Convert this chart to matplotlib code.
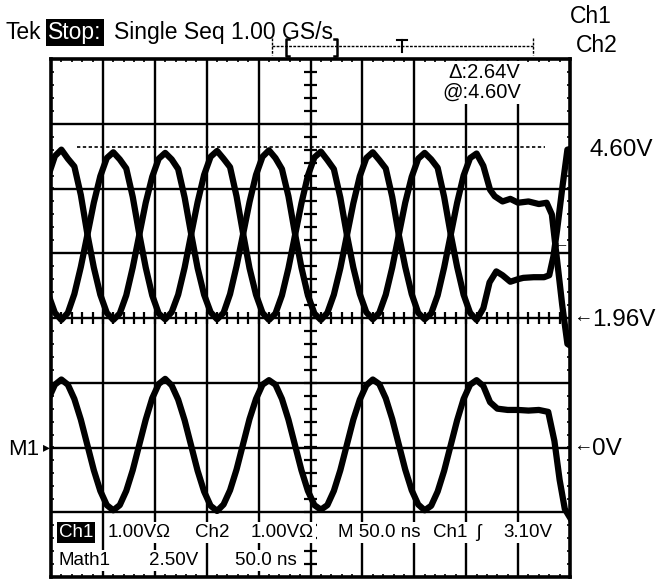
import matplotlib.pyplot as plt
import numpy as np

W, H = 660, 579
plt.rcParams['font.family'] = ['Liberation Sans Narrow', 'Liberation Sans', 'DejaVu Sans']

# sample times in divisions (50 ns/div), one reading every 1/8 div
t_main = np.arange(67) * 0.125 - 0.05

# Ch1, Ch2 in divisions above centre (1.00 V/div, centre = 1.96 V)
ch1_main = [2.20, 2.50, 2.60, 2.46, 2.34, 1.90, 1.30, 0.78, 0.36, 0.08, -0.03, 0.07, 0.35, 0.78, 1.28, 1.78,
            2.18, 2.46, 2.55, 2.45, 2.30, 1.86, 1.30, 0.77, 0.36, 0.09, -0.02, 0.08, 0.37, 0.80, 1.29, 1.79,
            2.21, 2.49, 2.59, 2.47, 2.30, 1.88, 1.31, 0.78, 0.35, 0.07, -0.03, 0.08, 0.36, 0.77, 1.27, 1.77,
            2.19, 2.47, 2.56, 2.44, 2.31, 1.87, 1.29, 0.79, 0.37, 0.08, -0.02, 0.07, 0.35, 0.78, 1.28, 1.78,
            2.20, 2.47, 2.54]
ch2_main = [0.36, 0.08, -0.03, 0.08, 0.37, 0.79, 1.28, 1.78, 2.19, 2.47, 2.56, 2.45, 2.31, 1.87, 1.30, 0.78,
            0.35, 0.07, -0.02, 0.09, 0.36, 0.78, 1.29, 1.79, 2.21, 2.49, 2.58, 2.46, 2.33, 1.88, 1.31, 0.77,
            0.36, 0.08, -0.03, 0.07, 0.35, 0.77, 1.27, 1.77, 2.20, 2.48, 2.57, 2.44, 2.30, 1.86, 1.29, 0.78,
            0.37, 0.09, -0.02, 0.08, 0.36, 0.78, 1.28, 1.78, 2.18, 2.46, 2.55, 2.45, 2.32, 1.87, 1.30, 0.79,
            0.36, 0.08, -0.03]
# Math1 in divisions (2.50 V/div), its zero sits 2 div below centre
math_main = [-1.25, -1.03, -0.95, -1.03, -1.25, -1.57, -1.96, -2.35, -2.67, -2.89, -2.97, -2.89, -2.67, -2.35, -1.96, -1.57,
             -1.24, -1.02, -0.94, -1.04, -1.26, -1.58, -1.97, -2.36, -2.68, -2.90, -2.98, -2.88, -2.66, -2.34, -1.95, -1.56,
             -1.25, -1.03, -0.96, -1.03, -1.25, -1.57, -1.96, -2.35, -2.67, -2.89, -2.96, -2.89, -2.67, -2.35, -1.96, -1.57,
             -1.26, -1.04, -0.95, -1.02, -1.24, -1.56, -1.95, -2.34, -2.66, -2.88, -2.97, -2.90, -2.68, -2.36, -1.97, -1.58,
             -1.25, -1.03, -0.96]

# end of the record
ch1_tail_t = [8.33, 8.46, 8.55, 8.70, 8.85, 9.00, 9.20, 9.40, 9.55, 9.65, 9.75, 9.85, 9.95, 10.05]
ch1_tail = [2.35, 1.98, 1.88, 1.80, 1.84, 1.78, 1.80, 1.76, 1.78, 1.60, 0.90, 0.20, -0.40, -0.45]
ch2_tail_t = [8.33, 8.45, 8.58, 8.70, 8.85, 9.00, 9.10, 9.30, 9.50, 9.60, 9.68, 9.75, 9.85, 9.95, 10.05]
ch2_tail = [0.15, 0.55, 0.72, 0.66, 0.56, 0.60, 0.62, 0.63, 0.63, 0.66, 0.95, 1.35, 2.00, 2.60, 2.62]
math_tail_t = [8.33, 8.46, 8.60, 8.80, 9.00, 9.20, 9.40, 9.58, 9.70, 9.80, 9.90, 10.05]
math_tail = [-1.05, -1.30, -1.40, -1.42, -1.42, -1.43, -1.42, -1.45, -1.90, -2.50, -2.95, -3.15]

cursor_level = 2.64      # 4.60 V cursor, 2.64 div above 1.96 V
trigger_level = 1.14     # 3.10 V


def fx(px):
    return px / W


def fy(py):
    return 1 - py / H


fig = plt.figure(figsize=(W / 100, H / 100), dpi=100)
ax = fig.add_axes([51 / W, 2 / H, 519 / W, 518 / H])
ax.set_xlim(0, 10)
ax.set_ylim(-4, 4)
ax.set_xticks([])
ax.set_yticks([])
for s in ax.spines.values():
    s.set_linewidth(2.6)

# graticule
for i in range(1, 10):
    ax.axvline(i, color='black', lw=1.7, zorder=1)
for j in range(-3, 4):
    ax.axhline(j, color='black', lw=1.7, zorder=1)
minor_x = np.arange(0.2, 10, 0.2)
minor_y = np.arange(-3.8, 4, 0.2)
ax.vlines(minor_x, -0.1, 0.1, color='black', lw=1.6, zorder=1)
ax.hlines(minor_y, 5 - 0.13, 5 + 0.13, color='black', lw=1.6, zorder=1)
ax.vlines(minor_x, -4, -3.95, color='black', lw=1.2)
ax.vlines(minor_x, 3.95, 4, color='black', lw=1.2)
ax.hlines(minor_y, 0, 0.06, color='black', lw=1.2)
ax.hlines(minor_y, 9.94, 10, color='black', lw=1.2)

# cursor
ax.hlines(cursor_level, 0.5, 9.52, color='black', lw=1.2, linestyles=(0, (2, 1.5)), zorder=1)

# traces
kw = dict(color='black', lw=4.5, solid_joinstyle='round', solid_capstyle='round', zorder=3)
ax.plot(np.concatenate([t_main, ch1_tail_t]), np.concatenate([ch1_main, ch1_tail]), **kw)
ax.plot(np.concatenate([t_main, ch2_tail_t]), np.concatenate([ch2_main, ch2_tail]), **kw)
ax.plot(np.concatenate([t_main, math_tail_t]), np.concatenate([math_main, math_tail]), **kw)

# trigger level arrow at right edge
ax.text(9.98, trigger_level, '\u2190', ha='right', va='center', fontsize=12, zorder=4)

white = dict(facecolor='white', edgecolor='none', pad=1.5)
black = dict(facecolor='black', edgecolor='none', pad=1.5)

# readouts inside the screen
ax.text((448 - 51) / 51.9, (318 - 78) / 64.75, '\u0394:2.64V', fontsize=14.5, va='baseline', bbox=white, zorder=5)
ax.text((442 - 51) / 51.9, (318 - 98) / 64.75, '@:4.60V', fontsize=14.5, va='baseline', bbox=white, zorder=5)

row1 = [(59, 'Ch1', True), (108, '1.00V\u03a9', False), (195, 'Ch2', False), (251, '1.00V\u03a9', False),
        (338, 'M 50.0 ns', False), (433, 'Ch1', False), (476, '\u0283', False), (503, '3.10V', False)]
for px, s, inv in row1:
    ax.text((px - 51) / 51.9, (318 - 537) / 64.75, s, fontsize=13.5, va='baseline',
            color='white' if inv else 'black', bbox=black if inv else white, zorder=5)
row2 = [(59, 'Math1'), (149, '2.50V'), (235, '50.0 ns')]
for px, s in row2:
    ax.text((px - 51) / 51.9, (318 - 565) / 64.75, s, fontsize=13.5, va='baseline', bbox=white, zorder=5)

# header
fig.text(fx(5), fy(39), 'Tek', fontsize=16.5, va='baseline')
fig.text(fx(48), fy(39), 'Stop:', fontsize=16.5, va='baseline', color='white', bbox=black)
fig.text(fx(114), fy(39), 'Single Seq 1.00 GS/s', fontsize=16.5, va='baseline')
fig.text(fx(570), fy(23), 'Ch1', fontsize=16.5, va='baseline')
fig.text(fx(576), fy(52), 'Ch2', fontsize=16.5, va='baseline')

# record bar
fig.add_artist(plt.Line2D([fx(272), fx(533)], [fy(46), fy(46)], color='black', lw=1, ls=(0, (2, 1))))
for px in (272, 533):
    fig.add_artist(plt.Line2D([fx(px), fx(px)], [fy(38), fy(55)], color='black', lw=1, ls=(0, (2, 1))))
for px, d in ((286, 1), (337, -1)):
    fig.add_artist(plt.Line2D([fx(px + 3 * d), fx(px), fx(px), fx(px + 3 * d)],
                              [fy(39), fy(39), fy(56), fy(56)], color='black', lw=1.8))
fig.add_artist(plt.Line2D([fx(397), fx(407)], [fy(40), fy(40)], color='black', lw=1.5))
fig.add_artist(plt.Line2D([fx(402), fx(402)], [fy(40), fy(52)], color='black', lw=1.5))

# right side labels
fig.text(fx(590), fy(156), '4.60V', fontsize=17.5, va='baseline')
fig.text(fx(573), fy(318), '\u2190', fontsize=14, va='center')
fig.text(fx(592), fy(326), '1.96V', fontsize=17.5, va='baseline')
fig.text(fx(573), fy(447), '\u2190', fontsize=14, va='center')
fig.text(fx(592), fy(455), '0V', fontsize=17.5, va='baseline')
fig.text(fx(8), fy(455), 'M1', fontsize=16, va='baseline')
fig.text(fx(43), fy(447), '\u25b8', fontsize=10, va='center')

fig.savefig('out.png', dpi=100)
